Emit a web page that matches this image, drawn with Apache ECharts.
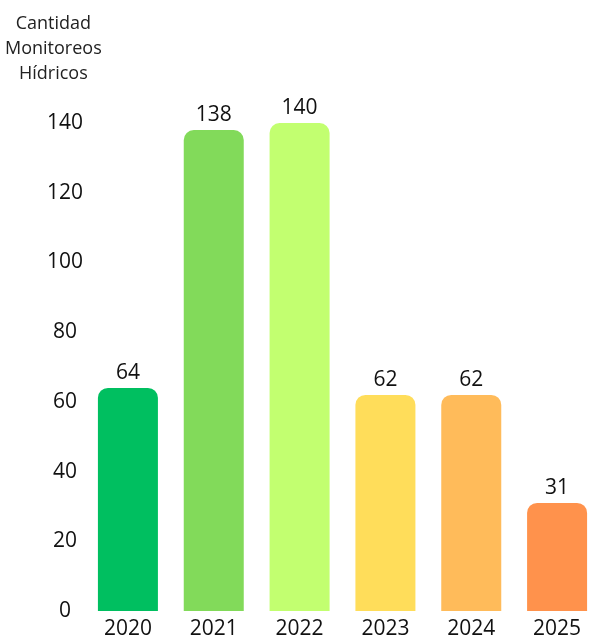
<!DOCTYPE html>
<html>
<head>
<meta charset="utf-8">
<script src="https://cdn.jsdelivr.net/npm/echarts@6/dist/echarts.min.js"></script>
<style>
  html, body { margin: 0; padding: 0; background: #fff; }
  #main { width: 589px; height: 641px; }
</style>
</head>
<body>
<div id="main"></div>
<script>
var years = ['2020', '2021', '2022', '2023', '2024', '2025'];
var counts = [64, 138, 140, 62, 62, 31];
var barColors = ['#00BF60', '#82DA5A', '#C2FF70', '#FFDD5A', '#FFBB5A', '#FF924C'];
var yTicks = [0, 20, 40, 60, 80, 100, 120, 140];

var fontName = 'Open Sans';
var chartDom = document.getElementById('main');
var myChart = echarts.init(chartDom);
var option;

option = {
    animation: false,
    graphic: [{
        type: 'text',
        left: 5,
        top: 11,
        style: {
            text: 'Cantidad\nMonitoreos\nHídricos',
            fill: '#222',
            font: '18px "' + fontName + '"',
            textAlign: 'center',
            lineHeight: 25,
            x: 52
        }
    }],
    grid: {
        left: 85,
        width: 515,
        top: 123,
        bottom: 30,
        outerBoundsMode: 'none'
    },
    xAxis: {
        type: 'category',
        data: years,
        axisLine: { show: false },
        axisTick: { show: false },
        axisLabel: {
            color: '#111',
            fontSize: 21,
            fontFamily: fontName,
            margin: 8
        }
    },
    yAxis: {
        type: 'value',
        min: yTicks[0],
        max: yTicks[yTicks.length - 1],
        interval: 20,
        splitLine: { show: false },
        axisLine: { show: false },
        axisTick: { show: false },
        axisLabel: {
            color: '#111',
            fontSize: 21,
            fontFamily: fontName,
            align: 'center',
            margin: 20,
            padding: [4, 0, 0, 0]
        }
    },
    series: [{
        type: 'bar',
        barWidth: 60,
        data: counts.map(function (v, i) {
            return { value: v, itemStyle: { color: barColors[i] } };
        }),
        itemStyle: { borderRadius: [10, 10, 0, 0] },
        label: {
            show: true,
            position: 'top',
            distance: 4,
            color: '#111',
            fontSize: 21,
            fontFamily: fontName
        }
    }]
};

option && myChart.setOption(option);
</script>
</body>
</html>
